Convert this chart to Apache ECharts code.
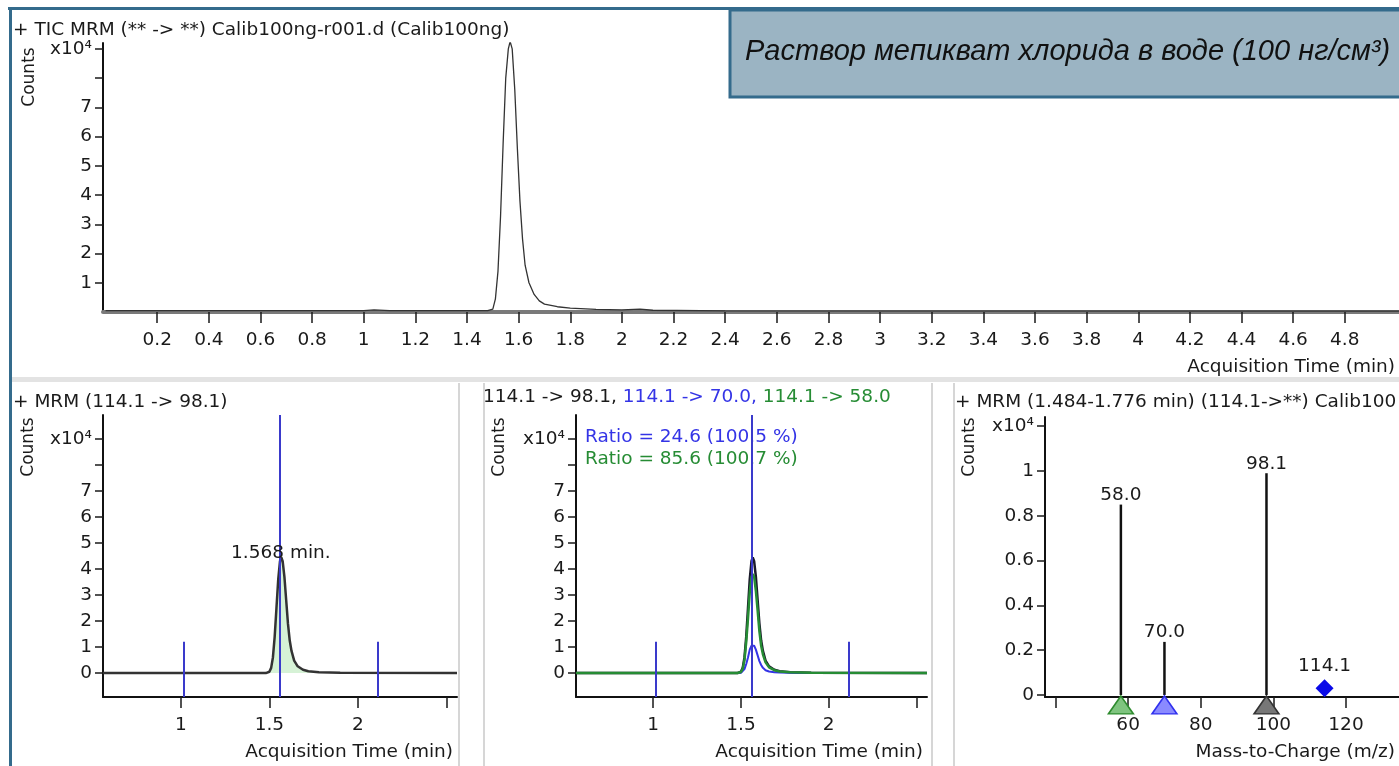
<!DOCTYPE html>
<html>
<head>
<meta charset="utf-8">
<title>Calib100ng MRM</title>
<script src="https://cdn.jsdelivr.net/npm/echarts@6/dist/echarts.min.js"></script>
<style>
  html, body { margin: 0; padding: 0; background: #fff; }
  #chart { width: 1399px; height: 766px; }
</style>
</head>
<body>
<div id="chart"></div>
<script>
// TIC, counts x10^4
const ticTime = [0, 1.0, 1.04, 1.1, 1.48, 1.50, 1.51, 1.52, 1.53, 1.54, 1.55, 1.56, 1.567, 1.575, 1.585, 1.595, 1.605, 1.615, 1.625, 1.64, 1.66, 1.68, 1.70, 1.75, 1.8, 1.9, 2.0, 2.07, 2.12, 2.4, 5.01];
const ticCounts = [0.05, 0.05, 0.07, 0.05, 0.05, 0.1, 0.45, 1.4, 3.3, 5.8, 8.0, 9.0, 9.25, 9.0, 7.6, 5.6, 3.8, 2.5, 1.6, 1.0, 0.6, 0.38, 0.27, 0.18, 0.13, 0.09, 0.07, 0.1, 0.06, 0.04, 0.03];

// extracted transitions (114.1 -> 98.1 / 70.0 / 58.0), counts x10^4
const xicTime = [0.56, 1.48, 1.50, 1.51, 1.52, 1.53, 1.54, 1.55, 1.56, 1.567, 1.575, 1.585, 1.595, 1.605, 1.615, 1.625, 1.64, 1.66, 1.69, 1.72, 1.78, 1.9, 2.56];
const counts98 = [0, 0, 0.05, 0.2, 0.6, 1.4, 2.5, 3.6, 4.3, 4.45, 4.3, 3.7, 2.8, 1.9, 1.25, 0.85, 0.48, 0.26, 0.13, 0.07, 0.03, 0.01, 0];
const counts70 = [0, 0, 0.01, 0.05, 0.15, 0.35, 0.6, 0.9, 1.05, 1.1, 1.05, 0.9, 0.68, 0.46, 0.31, 0.2, 0.11, 0.06, 0.03, 0.02, 0.01, 0, 0];
const counts58 = [0, 0, 0.04, 0.17, 0.5, 1.2, 2.1, 3.1, 3.7, 3.8, 3.7, 3.15, 2.4, 1.6, 1.05, 0.72, 0.41, 0.22, 0.11, 0.06, 0.03, 0.01, 0];

const retentionTime = 1.565;
const integrationLimits = [1.015, 2.115];

// product ions over 1.484-1.776 min, counts x10^4
const productMz = [58.0, 70.0, 98.1];
const productCounts = [0.85, 0.237, 0.99];
const precursorMz = [114.1];
const precursorCounts = [0.03];

// axis ticks
const timeTicksTop = [0.2, 0.4, 0.6, 0.8, 1, 1.2, 1.4, 1.6, 1.8, 2, 2.2, 2.4, 2.6, 2.8, 3, 3.2, 3.4, 3.6, 3.8, 4, 4.2, 4.4, 4.6, 4.8];
const countTicksTop = [1, 2, 3, 4, 5, 6, 7, 8, 9];
const countLabelsTop = [1, 2, 3, 4, 5, 6, 7, 9];
const timeTicksXic = [1, 1.5, 2, 2.5];
const timeLabelsXic = [1, 1.5, 2];
const countTicksXic = [0, 1, 2, 3, 4, 5, 6, 7, 8, 9];
const countLabelsXic = [0, 1, 2, 3, 4, 5, 6, 7, 9];
const mzTicks = [40, 60, 80, 100, 120];
const mzLabels = [60, 80, 100, 120];
const spectrumTicks = [0, 0.2, 0.4, 0.6, 0.8, 1, 1.2];

const FONT = 'Tahoma, "DejaVu Sans", sans-serif';
const FS = 18.5;
const INK = '#1a1a1a';
const BLUE = '#3434e6';
const GREEN = '#268c34';
const FRAME = '#346b8c';

const zip = (xs, ys) => xs.map((x, i) => [x, ys[i]]);
const expLabel = top => v => (v === top ? 'x10⁴' : String(v));

function xAxisFor(grid, min, max, ticks, labels, name, line) {
    return {
        type: 'value', gridIndex: grid, min: min, max: max,
        splitLine: { show: false },
        axisLine: { onZero: false, lineStyle: line || { color: '#111', width: 2 } },
        axisTick: { customValues: ticks, length: 11, lineStyle: { color: INK, width: 1.5 } },
        axisLabel: { customValues: labels, margin: 19, fontSize: FS, color: INK, fontFamily: FONT },
        name: name, nameLocation: 'end', nameGap: -4,
        nameTextStyle: { align: 'right', verticalAlign: 'top', padding: [46, 0, 0, 0], fontSize: FS, color: INK, fontFamily: FONT }
    };
}

function yAxisFor(grid, min, max, ticks, labels, top) {
    return {
        type: 'value', gridIndex: grid, min: min, max: max,
        splitLine: { show: false },
        axisLine: { onZero: false, lineStyle: { color: '#111', width: 2 } },
        axisTick: { customValues: ticks, length: 8, lineStyle: { color: INK, width: 1.5 } },
        axisLabel: { customValues: labels, margin: 11, fontSize: FS, color: INK, fontFamily: FONT, formatter: expLabel(top) }
    };
}

function peakMarkers(yMin) {
    return {
        silent: true, symbol: ['none', 'none'],
        lineStyle: { color: '#3a3acb', width: 2, type: 'solid' },
        label: { show: false },
        data: [
            [{ coord: [integrationLimits[0], yMin] }, { coord: [integrationLimits[0], 1.2] }],
            [{ coord: [integrationLimits[1], yMin] }, { coord: [integrationLimits[1], 1.2] }],
            { xAxis: retentionTime }
        ]
    };
}

function text(x, y, str, extra) {
    return {
        type: 'text', x: x, y: y, silent: true,
        style: Object.assign({ text: str, fill: INK, font: FS + 'px ' + FONT, verticalAlign: 'middle' }, extra || {})
    };
}

function counts(x, y) {
    return {
        type: 'text', x: x, y: y, rotation: Math.PI / 2, silent: true,
        style: { text: 'Counts', fill: INK, font: '17px ' + FONT, align: 'center', verticalAlign: 'middle' }
    };
}

const xicMin = -0.92, xicMax = 9.92;

const chart = echarts.init(document.getElementById('chart'));
chart.setOption({
    animation: false,
    backgroundColor: '#fff',
    grid: [
        { left: 103, right: 0, top: 43, bottom: 454 },
        { left: 103, width: 354, top: 415, bottom: 69 },
        { left: 576, width: 351, top: 415, bottom: 69 },
        { left: 1045, right: 0, top: 417, bottom: 69 }
    ],
    xAxis: [
        xAxisFor(0, -0.01, 5.01, timeTicksTop, timeTicksTop, 'Acquisition Time (min)', { color: '#7a7a7a', width: 4 }),
        xAxisFor(1, 0.56, 2.56, timeTicksXic, timeLabelsXic, 'Acquisition Time (min)'),
        xAxisFor(2, 0.56, 2.56, timeTicksXic, timeLabelsXic, 'Acquisition Time (min)'),
        xAxisFor(3, 37.1, 134.6, mzTicks, mzLabels, 'Mass-to-Charge (m/z)')
    ],
    yAxis: [
        yAxisFor(0, 0, 9.2, countTicksTop, countLabelsTop, 9),
        yAxisFor(1, xicMin, xicMax, countTicksXic, countLabelsXic, 9),
        yAxisFor(2, xicMin, xicMax, countTicksXic, countLabelsXic, 9),
        yAxisFor(3, -0.009, 1.241, spectrumTicks, spectrumTicks, 1.2)
    ],
    series: [
        {
            name: 'TIC', type: 'line', xAxisIndex: 0, yAxisIndex: 0,
            data: zip(ticTime, ticCounts), showSymbol: false,
            lineStyle: { color: '#333', width: 1.3 }
        },
        {
            name: '114.1 -> 98.1', type: 'line', xAxisIndex: 1, yAxisIndex: 1,
            data: zip(xicTime, counts98), showSymbol: false,
            lineStyle: { color: '#333', width: 2.5 },
            areaStyle: { color: '#d6f2d6', opacity: 1 },
            markLine: peakMarkers(xicMin),
            markPoint: {
                silent: true,
                data: [{
                    coord: [retentionTime, 4.62], symbol: 'circle', symbolSize: 1,
                    itemStyle: { color: 'transparent' },
                    label: { show: true, position: 'inside', formatter: '1.568 min.', color: INK, fontSize: FS, fontFamily: FONT }
                }]
            }
        },
        {
            name: '98.1', type: 'line', xAxisIndex: 2, yAxisIndex: 2,
            data: zip(xicTime, counts98), showSymbol: false,
            lineStyle: { color: '#1a1a2a', width: 2.5 },
            markLine: peakMarkers(xicMin)
        },
        {
            name: '70.0', type: 'line', xAxisIndex: 2, yAxisIndex: 2,
            data: zip(xicTime, counts70), showSymbol: false,
            lineStyle: { color: BLUE, width: 2 }
        },
        {
            name: '58.0', type: 'line', xAxisIndex: 2, yAxisIndex: 2,
            data: zip(xicTime, counts58), showSymbol: false,
            lineStyle: { color: GREEN, width: 2.5 }
        },
        {
            name: 'product ions', type: 'bar', xAxisIndex: 3, yAxisIndex: 3,
            data: zip(productMz, productCounts), barWidth: 2.5,
            itemStyle: { color: '#111' },
            label: {
                show: true, position: 'top', distance: 0, color: INK, fontSize: FS, fontFamily: FONT,
                formatter: p => p.value[0].toFixed(1)
            }
        },
        {
            name: 'markers', type: 'scatter', xAxisIndex: 3, yAxisIndex: 3, clip: false,
            symbol: 'triangle', symbolSize: [25, 18], symbolOffset: [0, 10],
            data: productMz.map((m, i) => ({
                value: [m, 0],
                itemStyle: [
                    { color: '#7fc47f', borderColor: '#2e8b2e', borderWidth: 1.5, opacity: 1 },
                    { color: '#8a8aff', borderColor: '#3030ee', borderWidth: 1.5, opacity: 1 },
                    { color: '#777', borderColor: '#333', borderWidth: 1.5, opacity: 1 }
                ][i]
            }))
        },
        {
            name: 'precursor', type: 'scatter', xAxisIndex: 3, yAxisIndex: 3,
            symbol: 'diamond', symbolSize: [18, 18],
            data: zip(precursorMz, precursorCounts),
            itemStyle: { color: '#0a0ae8', opacity: 1 },
            label: {
                show: true, position: 'top', distance: 4, color: INK, fontSize: FS, fontFamily: FONT,
                formatter: p => p.value[0].toFixed(1)
            }
        }
    ],
    graphic: [
        // frame and panel separators
        { type: 'rect', silent: true, shape: { x: 8, y: 7, width: 1391, height: 3 }, style: { fill: FRAME } },
        { type: 'rect', silent: true, shape: { x: 9, y: 7, width: 3, height: 759 }, style: { fill: FRAME } },
        { type: 'rect', silent: true, shape: { x: 12, y: 377, width: 1387, height: 5 }, style: { fill: '#e3e3e3' } },
        { type: 'rect', silent: true, shape: { x: 458, y: 383, width: 2, height: 383 }, style: { fill: '#d6d6d6' } },
        { type: 'rect', silent: true, shape: { x: 483, y: 383, width: 2, height: 383 }, style: { fill: '#d6d6d6' } },
        { type: 'rect', silent: true, shape: { x: 931, y: 383, width: 2, height: 383 }, style: { fill: '#d6d6d6' } },
        { type: 'rect', silent: true, shape: { x: 953, y: 383, width: 2, height: 383 }, style: { fill: '#d6d6d6' } },
        // caption box
        { type: 'rect', silent: true, shape: { x: 730, y: 10, width: 680, height: 87 }, style: { fill: '#9bb4c3', stroke: FRAME, lineWidth: 3 } },
        text(745, 52, 'Раствор мепикват хлорида в воде (100 нг/см³)', { font: 'italic 29px "Liberation Sans", Arial, sans-serif', fill: '#111' }),
        // titles
        text(13, 30, '+ TIC MRM (** -> **) Calib100ng-r001.d (Calib100ng)'),
        text(13, 402, '+ MRM (114.1 -> 98.1)'),
        {
            type: 'text', x: 483, y: 397, silent: true,
            style: {
                text: '{k|114.1 -> 98.1, }{b|114.1 -> 70.0, }{g|114.1 -> 58.0}',
                verticalAlign: 'middle', font: FS + 'px ' + FONT,
                rich: {
                    k: { fill: INK, font: FS + 'px ' + FONT },
                    b: { fill: BLUE, font: FS + 'px ' + FONT },
                    g: { fill: GREEN, font: FS + 'px ' + FONT }
                }
            }
        },
        text(955, 402, '+ MRM (1.484-1.776 min) (114.1->**) Calib100'),
        text(585, 437, 'Ratio = 24.6 (100.5 %)', { fill: BLUE }),
        text(585, 459, 'Ratio = 85.6 (100.7 %)', { fill: GREEN }),
        counts(30, 77),
        counts(29, 447),
        counts(500, 447),
        counts(970, 447)
    ]
});
</script>
</body>
</html>
